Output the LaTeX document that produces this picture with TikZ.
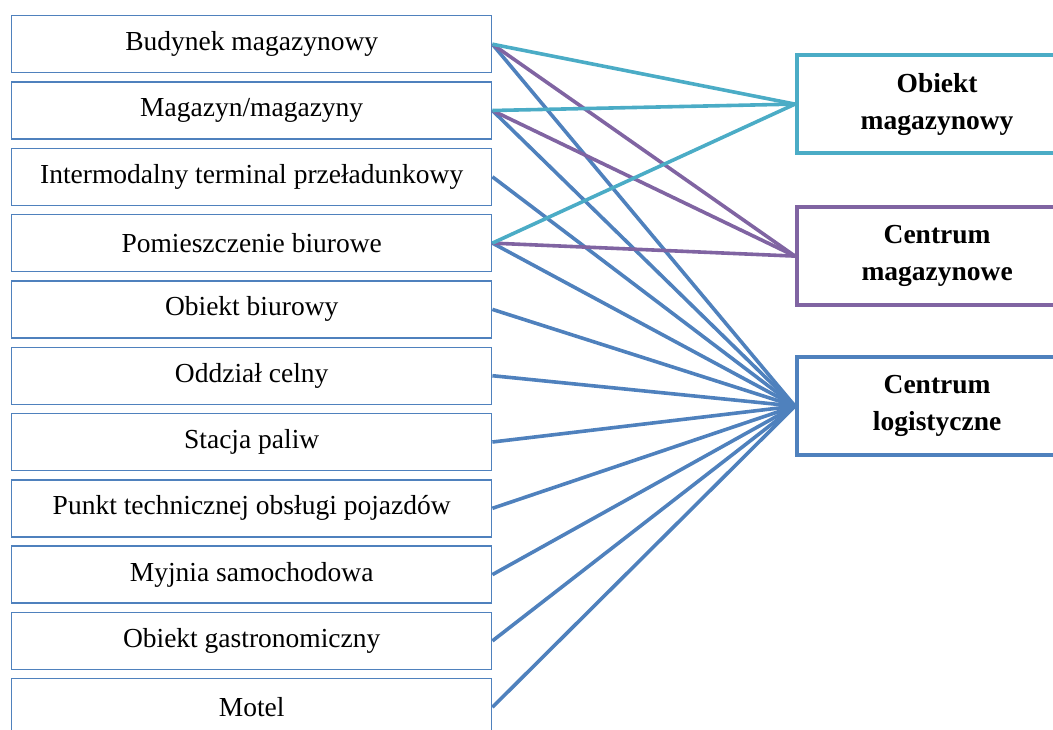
\documentclass[tikz,border=0pt]{standalone}
\usepackage{fontspec}
\setmainfont{Liberation Serif}
\definecolor{cyanl}{HTML}{4BACC6}
\definecolor{purpl}{HTML}{8064A2}
\definecolor{bluel}{HTML}{4F81BD}
\begin{document}
\begin{tikzpicture}[x=0.5pt,y=-0.5pt,
 leftbox/.style={draw=bluel, line width=0.7pt, minimum width=240pt, minimum height=28.5pt, inner sep=0pt, anchor=north west, font=\fontsize{13.75}{16}\selectfont},
 rightbox/.style={line width=2.1pt, fill=white, minimum width=140pt, minimum height=49pt, inner sep=0pt, anchor=north west, align=center, font=\fontsize{13.75}{18.5}\selectfont\bfseries},
 link/.style={line width=1.8pt}]
\useasboundingbox (0,0) rectangle (1053,729);
\clip (0,0) rectangle (1053,729);
\node[leftbox] (l1) at (11,15) {Budynek magazynowy};
\node[leftbox] (l2) at (11,81.3) {Magazyn/magazyny};
\node[leftbox] (l3) at (11,147.6) {Intermodalny terminal przeładunkowy};
\node[leftbox] (l4) at (11,213.9) {Pomieszczenie biurowe};
\node[leftbox] (l5) at (11,280.2) {Obiekt biurowy};
\node[leftbox] (l6) at (11,346.5) {Oddział celny};
\node[leftbox] (l7) at (11,412.8) {Stacja paliw};
\node[leftbox] (l8) at (11,479.1) {Punkt technicznej obsługi pojazdów};
\node[leftbox] (l9) at (11,545.4) {Myjnia samochodowa};
\node[leftbox] (l10) at (11,611.7) {Obiekt gastronomiczny};
\node[leftbox] (l11) at (11,678) {Motel};
\node[rightbox, draw=cyanl] (om) at (795,53) {Obiekt\\magazynowy};
\node[rightbox, draw=purpl] (cm) at (795,205) {Centrum\\magazynowe};
\node[rightbox, draw=bluel] (cl) at (795,355) {Centrum\\logistyczne};
\foreach \i in {1,2,3,4,5,6,7,8,9,10,11}{
  \draw[link,bluel] (l\i.east) -- (cl.west);
}
\draw[link,purpl] (l1.east) -- (cm.west);
\draw[link,purpl] (l2.east) -- (cm.west);
\draw[link,purpl] (l4.east) -- (cm.west);
\draw[link,cyanl] (l1.east) -- (om.west);
\draw[link,cyanl] (l2.east) -- (om.west);
\draw[link,cyanl] (l4.east) -- (om.west);
\end{tikzpicture}
\end{document}
